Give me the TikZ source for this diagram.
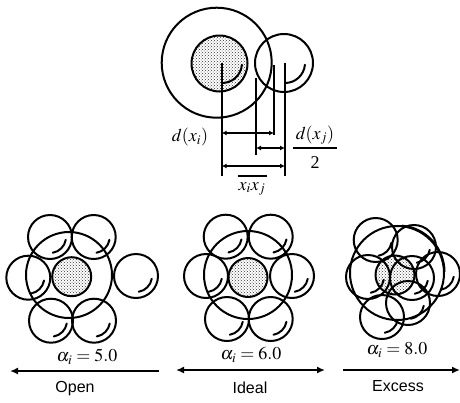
\documentclass[tikz,border=0pt]{standalone}
\usepackage{mathptmx}
\usepackage[no-math]{fontspec}
\setmainfont{Liberation Serif}
\setsansfont{Liberation Sans}
\usetikzlibrary{patterns,arrows.meta,calc}
\tikzset{
  ring/.style={draw=black,line width=2pt},
  corefill/.style={pattern=crosshatch dots,pattern color=black!80},
  hook/.style={draw=black,line width=2pt,line cap=round},
  dimline/.style={draw=black,line width=2pt},
  arrowline/.style={draw=black,line width=1.7pt,{Latex[length=5pt,width=5pt]}-{Latex[length=5pt,width=5pt]}},
  longarrow/.style={draw=black,line width=1.6pt},
  sidelabel/.style={font=\sffamily\fontsize{16}{18}\selectfont,inner sep=0pt},
  mathlabel/.style={font=\fontsize{18}{20}\selectfont,inner sep=0pt}
}
\newcommand{\ball}[2]{%
  \draw[ring] (#1,#2) circle[radius=22];
  \draw[hook] ($(#1,#2)+(80:16)$) arc[start angle=80,end angle=10,radius=16];
}
\newcommand{\core}[2]{%
  \fill[corefill] (#1,#2) circle[radius=19.5];
  \draw[ring] (#1,#2) circle[radius=19.5];
}
\begin{document}
\begin{tikzpicture}[x=1pt,y=-1pt]
\useasboundingbox (0,0) rectangle (460,402);
% top detail
\fill[corefill] (219.5,63.5) circle[radius=28];
\draw[ring] (219.5,63.5) circle[radius=28];
\draw[ring] (216.7,62.7) circle[radius=55];
\draw[ring] (284,63) circle[radius=29];
\draw[hook] (222,83) arc[start angle=90,end angle=5,radius=20];
\draw[hook] (285,83) arc[start angle=90,end angle=5,radius=20];
\coordinate (a1) at (221.7,63); \coordinate (a2) at (221.7,176);
\coordinate (b1) at (256,78);   \coordinate (b2) at (256,155);
\coordinate (c1) at (274,65);   \coordinate (c2) at (274,135);
\coordinate (d1) at (285,63);   \coordinate (d2) at (285,176);
\draw[dimline] (a1)--(a2);
\draw[dimline] (b1)--(b2);
\draw[dimline,line width=1.4pt] (c1)--(c2);
\draw[dimline] (d1)--(d2);
\draw[arrowline] (221.7,133)--(274,133);
\draw[arrowline] (256,148)--(285,148);
\draw[arrowline] (221.7,166)--(285,166);
\node[mathlabel] (dxi) at (190,137) {$d(x_i)$};
\node[mathlabel] (dxj) at (315,135) {$d(x_j)$};
\coordinate (f1) at (293,148); \coordinate (f2) at (337,148);
\draw[line width=1.8pt] (f1)--(f2);
\node[mathlabel] (two) at (315,163) {2};
\node[mathlabel] (xij) at (252,189) {$x_i x_j$};
\coordinate (o1) at (238,176); \coordinate (o2) at (267,176);
\draw[line width=2pt] (o1)--(o2);
% open
\core{71.7}{276.7}
\draw[ring] (69,275) circle[radius=43];
\ball{50}{237}\ball{93.7}{237}\ball{28.3}{277.7}\ball{136}{276}\ball{51}{320.7}\ball{94}{320.7}
% ideal
\core{248}{277.5}
\draw[ring] (248,275) circle[radius=44];
\ball{225.7}{236.7}\ball{270.7}{236.7}\ball{206}{276}\ball{292}{276}\ball{227}{319}\ball{270.7}{319}
% excess
\core{395}{275}
\draw[ring] (397,273) circle[radius=47];
\draw[ring] ($(398,272)+(-85:46.5)$) arc[start angle=-85,end angle=0,radius=46.5];
\ball{375.7}{240}\ball{414}{247}\ball{368}{277}\ball{438}{274}\ball{382}{317}\ball{408}{303}
\ball{412}{278}
% labels
\node[mathlabel] (l1) at (87,357) {$\alpha_i = 5.0$};
\node[mathlabel] (l2) at (251,355) {$\alpha_i = 6.0$};
\node[mathlabel] (l3) at (397,350) {$\alpha_i = 8.0$};
\coordinate (p1) at (159,371); \coordinate (p2) at (10,371);
\draw[longarrow,-{Latex[length=8pt,width=7pt]}] (p1)--(p2);
\coordinate (q1) at (176,370); \coordinate (q2) at (325,370);
\draw[longarrow,{Latex[length=8pt,width=7pt]}-{Latex[length=8pt,width=7pt]}] (q1)--(q2);
\coordinate (s1) at (343,370); \coordinate (s2) at (460,370);
\draw[longarrow,-{Latex[length=8pt,width=7pt]}] (s1)--(s2);
\node[sidelabel] (open) at (75,389) {Open};
\node[sidelabel] (ideal) at (250,388) {Ideal};
\node[sidelabel] (excess) at (398,386) {Excess};
\end{tikzpicture}
\end{document}
